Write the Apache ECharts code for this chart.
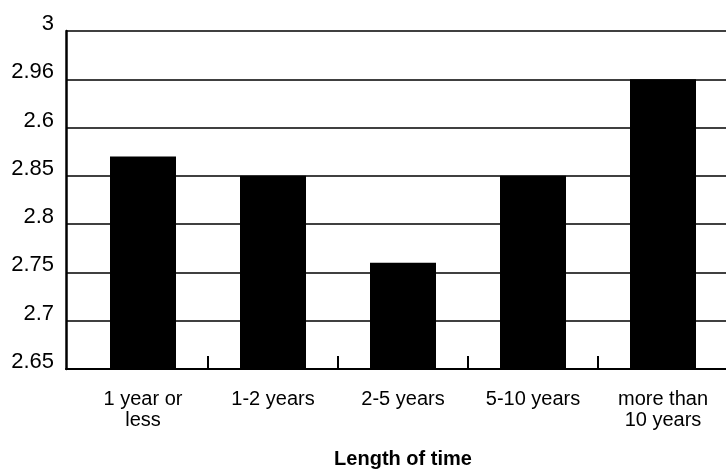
<!DOCTYPE html>
<html lang="en">
<head>
	<meta charset="UTF-8">
	<title>Length of time</title>
	<style>
		html, body { margin: 0; padding: 0; background: #fff; }
	</style>
</head>
<body>
	<div id="container" style="width: 726px;height:471px;"></div>

	<script src="https://cdn.jsdelivr.net/npm/echarts@6/dist/echarts.min.js"></script>
	<script>
        var categories = ['1 year or\nless', '1-2 years', '2-5 years', '5-10 years', 'more than\n10 years'];
        var values = [2.87, 2.85, 2.76, 2.85, 2.95];
        // labels as printed on the original (top to bottom)
        var yTickLabels = ['3', '2.96', '2.6', '2.85', '2.8', '2.75', '2.7', '2.65'];
        var yMin = 2.65, yMax = 3, yStep = 0.05;

        var font = '"Liberation Sans", Arial, sans-serif';

        function yLabel(v) {
            var i = Math.round((yMax - v) / yStep);
            return yTickLabels[i] || '';
        }

        var gridLine = { show: true, lineStyle: { color: '#000', width: 1.5 } };

        var option = {
            animation: false,
            backgroundColor: '#fff',
            grid: [
                { left: 66, width: 12, top: 31, bottom: 102, outerBoundsMode: 'none', containLabel: false },
                { left: 78, width: 650, top: 31, bottom: 102, outerBoundsMode: 'none', containLabel: false }
            ],
            xAxis: [{
                gridIndex: 0,
                type: 'category',
                data: [''],
                axisLine: { lineStyle: { color: '#000', width: 2 } },
                axisTick: { show: false },
                axisLabel: { show: false }
            }, {
                gridIndex: 1,
                type: 'category',
                data: categories,
                name: 'Length of time',
                nameLocation: 'middle',
                nameGap: 80,
                nameTextStyle: {
                    fontFamily: '"Liberation Sans Narrow", "Liberation Sans", Arial, sans-serif',
                    fontWeight: 'bold',
                    fontSize: 20,
                    color: '#000'
                },
                axisLine: { lineStyle: { color: '#000', width: 2 } },
                axisTick: {
                    show: true,
                    inside: true,
                    length: 13,
                    // no tick at the left edge of the first band
                    interval: function (index) { return index !== 0; },
                    lineStyle: { color: '#000', width: 2 }
                },
                axisLabel: {
                    color: '#000',
                    fontFamily: font,
                    fontSize: 20,
                    lineHeight: 21,
                    margin: 20,
                    interval: 0
                }
            }],
            yAxis: [{
                gridIndex: 0,
                type: 'value',
                min: yMin,
                max: yMax,
                interval: yStep,
                axisLine: { show: true, lineStyle: { color: '#000', width: 2.5 } },
                axisTick: { show: false },
                splitLine: gridLine,
                axisLabel: {
                    color: '#000',
                    fontFamily: font,
                    fontSize: 22,
                    lineHeight: 14,
                    margin: 12,
                    verticalAlign: 'bottom',
                    formatter: yLabel
                }
            }, {
                gridIndex: 1,
                type: 'value',
                min: yMin,
                max: yMax,
                interval: yStep,
                axisLine: { show: false },
                axisTick: { show: false },
                axisLabel: { show: false },
                splitLine: gridLine
            }],
            series: [{
                type: 'bar',
                xAxisIndex: 1,
                yAxisIndex: 1,
                data: values,
                barWidth: 66,
                itemStyle: { color: '#000' }
            }]
        };

        var myChart = echarts.init(document.getElementById('container'));
        myChart.setOption(option);
    </script>
</body>
</html>
